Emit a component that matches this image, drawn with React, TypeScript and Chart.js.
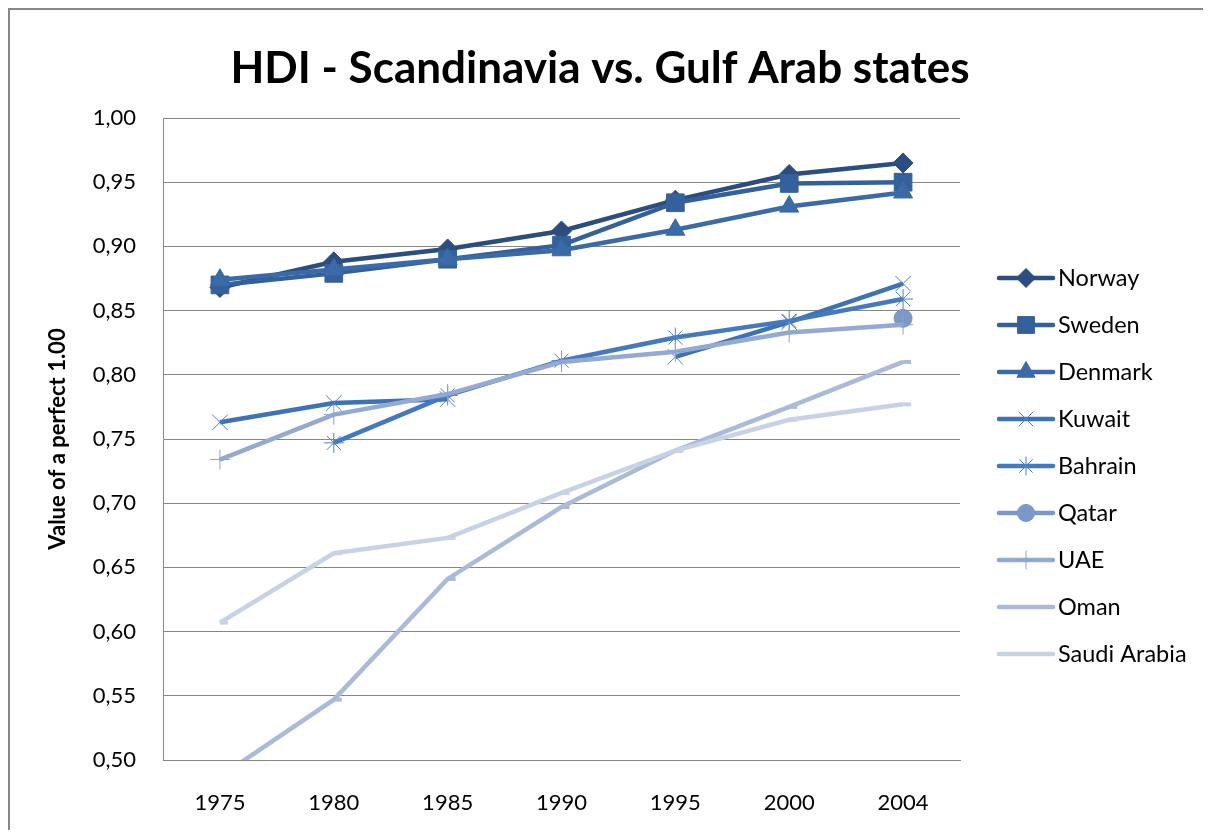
import React, { useEffect, useRef } from 'react';
import { Chart, registerables } from 'chart.js';
import { drawPoint } from 'chart.js/helpers';

Chart.register(...registerables);

const years = ['1975', '1980', '1985', '1990', '1995', '2000', '2004'];

const norway = [0.868, 0.888, 0.898, 0.912, 0.936, 0.956, 0.965];
const sweden = [0.870, 0.879, 0.890, 0.901, 0.934, 0.949, 0.950];
const denmark = [0.874, 0.882, 0.890, 0.897, 0.913, 0.931, 0.942];
const kuwait = [0.763, 0.778, 0.781, null, 0.814, 0.841, 0.871];
const bahrain = [null, 0.747, 0.784, 0.811, 0.829, 0.842, 0.859];
const qatar = [null, null, null, null, null, null, 0.844];
const uae = [0.734, 0.769, 0.785, 0.810, 0.818, 0.833, 0.839];
const oman = [0.487, 0.547, 0.641, 0.697, 0.741, 0.775, 0.810];
const saudi = [0.607, 0.661, 0.673, 0.708, 0.741, 0.765, 0.777];

const seriesNames = ['Norway', 'Sweden', 'Denmark', 'Kuwait', 'Bahrain', 'Qatar', 'UAE', 'Oman', 'Saudi Arabia'];
const seriesData = [norway, sweden, denmark, kuwait, bahrain, qatar, uae, oman, saudi];
const lineColors = ['#2B4D80', '#34619B', '#3A6AA7', '#3D72B4', '#4479BF', '#7C98C8', '#94AAD2', '#AABBDA', '#C7D2E7'];
const markerColors = ['#2B4D80', '#34619B', '#3A6AA7', '#4F81C4', '#4F81C4', '#7C98C8', '#8AA2CE', '#AABBDA', '#C7D2E7'];
const markerStyles = ['rectRot', 'rect', 'triangle', 'crossRot', 'star', 'circle', 'cross', 'dash', 'dash'];
const markerRadius = [10, 12.5, 11, 11, 10, 9, 10, 8, 8];
const markerBorder = [1, 1, 1, 1, 1, 1, 1, 4, 4];

const yTicks = [0.5, 0.55, 0.6, 0.65, 0.7, 0.75, 0.8, 0.85, 0.9, 0.95, 1.0];

const chartTitle = 'HDI - Scandinavia vs. Gulf Arab states';

const FONT = 'Lato, "Open Sans", sans-serif';

const framePlugin = {
  id: 'frame',
  beforeDraw(chart: any) {
    const { ctx, width, height } = chart;
    ctx.save();
    ctx.fillStyle = '#ffffff';
    ctx.fillRect(0, 0, width, height);
    ctx.strokeStyle = '#868686';
    ctx.lineWidth = 2;
    ctx.beginPath();
    ctx.moveTo(1, height);
    ctx.lineTo(1, 1);
    ctx.lineTo(width, 1);
    ctx.stroke();
    ctx.restore();
  },
};

const titlePlugin = {
  id: 'xlTitle',
  afterDraw(chart: any) {
    const { ctx } = chart;
    ctx.save();
    ctx.fillStyle = '#000000';
    ctx.font = `bold 44px ${FONT}`;
    ctx.textAlign = 'center';
    ctx.textBaseline = 'alphabetic';
    ctx.fillText(chartTitle, 592, 75);
    ctx.restore();
  },
};

const legendPlugin = {
  id: 'xlLegend',
  afterDraw(chart: any) {
    const { ctx } = chart;
    const x0 = 991;
    const x1 = 1045;
    const xm = 1018;
    const y0 = 270;
    const step = 47;
    ctx.save();
    chart.data.datasets.forEach((ds: any, i: number) => {
      const y = y0 + i * step;
      ctx.strokeStyle = ds.borderColor;
      ctx.lineWidth = ds.borderWidth;
      ctx.lineCap = 'round';
      ctx.beginPath();
      ctx.moveTo(x0, y);
      ctx.lineTo(x1, y);
      ctx.stroke();
      ctx.lineCap = 'butt';
      ctx.fillStyle = ds.pointBackgroundColor;
      ctx.strokeStyle = ds.pointBorderColor;
      ctx.lineWidth = ds.pointBorderWidth;
      drawPoint(ctx, {
        pointStyle: ds.pointStyle,
        radius: ds.pointRadius * 0.95,
        borderWidth: ds.pointBorderWidth,
        rotation: 0,
      }, xm, y);
      ctx.fillStyle = '#000000';
      ctx.font = `23.5px ${FONT}`;
      ctx.textAlign = 'left';
      ctx.textBaseline = 'middle';
      ctx.fillText(ds.label, 1050, y);
    });
    ctx.restore();
  },
};

export default function App() {
  const ref = useRef<HTMLCanvasElement | null>(null);

  useEffect(() => {
    document.documentElement.style.overflow = 'hidden';
    document.body.style.overflow = 'hidden';
    if (!ref.current) return;
    const datasets = seriesNames.map((name, i) => ({
      label: name,
      data: seriesData[i],
      borderColor: lineColors[i],
      backgroundColor: lineColors[i],
      borderWidth: 4.5,
      tension: 0,
      spanGaps: false,
      pointStyle: markerStyles[i],
      pointRadius: markerRadius[i],
      pointBackgroundColor: markerColors[i],
      pointBorderColor: markerColors[i],
      pointBorderWidth: markerBorder[i],
      order: -i,
    }));

    const chart = new Chart(ref.current, {
      type: 'line',
      data: { labels: years, datasets },
      plugins: [framePlugin, titlePlugin, legendPlugin],
      options: {
        animation: false,
        responsive: false,
        devicePixelRatio: 1,
        layout: { padding: { left: 0, right: 251, top: 110, bottom: 0 } },
        plugins: {
          legend: { display: false },
          tooltip: { enabled: false },
          title: { display: false },
        },
        scales: {
          x: {
            type: 'category',
            offset: true,
            grid: { display: false, drawTicks: false },
            border: { display: true, color: '#868686', width: 1 },
            ticks: {
              color: '#000000',
              font: { family: FONT, size: 22 },
              padding: 30,
              maxRotation: 0,
            },
            afterFit(scale: any) {
              scale.height = 78;
            },
          },
          y: {
            min: 0.5,
            max: 1.0,
            afterBuildTicks(scale: any) {
              scale.ticks = yTicks.map((v) => ({ value: v }));
            },
            grid: { color: '#868686', lineWidth: 1, drawTicks: false },
            border: { display: true, color: '#868686', width: 1 },
            ticks: {
              color: '#000000',
              font: { family: FONT, size: 22 },
              padding: 27,
              callback: (v: any) => Number(v).toFixed(2).replace('.', ','),
            },
            title: {
              display: true,
              text: 'Value of a perfect 1.00',
              color: '#000000',
              font: { family: FONT, size: 22, weight: 'bold' },
              padding: { top: 37, bottom: 0 },
            },
            afterFit(scale: any) {
              scale.width = 155;
            },
          },
        },
      },
    } as any);

    return () => chart.destroy();
  }, []);

  return (
    <div style={{ width: 1195, height: 822, position: 'relative', overflow: 'visible' }}>
      <canvas ref={ref} width={1203} height={830} style={{ display: 'block' }} />
    </div>
  );
}
